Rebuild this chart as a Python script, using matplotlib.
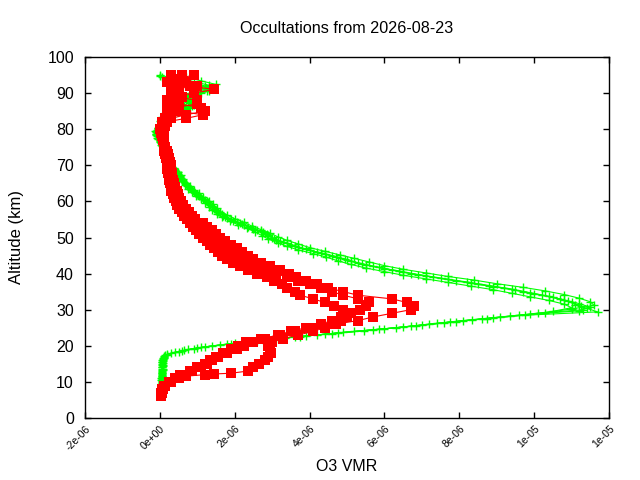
import matplotlib
matplotlib.use("Agg")
import matplotlib.pyplot as plt
import numpy as np
from matplotlib.ticker import FuncFormatter, MultipleLocator

plt.rcParams['font.family'] = ['Liberation Sans', 'DejaVu Sans']

# green profiles (O3 VMR in units of 1e-6), 1 km grids
green_alt_1 = np.arange(9, 96)
green_vmr_1 = [0.05, 0.05, 0.06, 0.05, 0.06, 0.07, 0.06, 0.08, 0.1, 0.3,
               0.75, 1.4, 2.3, 3.1, 4.2, 5.2, 6.3, 7.2, 8.1, 9.1,
               10.1, 11.3, 11.25, 11.0, 10.7, 10.2, 9.7, 9.2, 8.5, 7.9,
               7.3, 6.7, 6.2, 5.7, 5.3, 4.95, 4.6, 4.2, 3.8, 3.5,
               3.2, 3.0, 2.85, 2.6, 2.35, 2.15, 1.9, 1.7, 1.55, 1.45,
               1.35, 1.25, 1.1, 1.0, 0.88, 0.78, 0.66, 0.6, 0.54, 0.47,
               0.38, 0.28, 0.22, 0.18, 0.15, 0.12, 0.1, 0.05, 0.0, -0.05,
               -0.08, -0.05, 0.0, 0.05, 0.1, 0.3, 0.6, 0.8, 0.85, 0.7,
               0.75, 1.1, 1.4, 1.2, 0.8, 0.4, 0.0]

green_alt_2 = np.arange(9.4, 95, 1.0)
green_vmr_2 = [0.04, 0.06, 0.05, 0.07, 0.06, 0.08, 0.07, 0.09, 0.15, 0.5,
               1.0, 1.8, 2.6, 3.6, 4.6, 5.7, 6.7, 7.6, 8.6, 9.6,
               11.7, 11.4, 11.1, 10.9, 10.5, 10.0, 9.5, 8.9, 8.3, 7.7,
               7.1, 6.5, 6.0, 5.5, 5.1, 4.8, 4.4, 4.0, 3.7, 3.4,
               3.1, 2.9, 2.75, 2.5, 2.25, 2.05, 1.8, 1.65, 1.5, 1.4,
               1.3, 1.2, 1.05, 0.95, 0.82, 0.72, 0.64, 0.57, 0.5, 0.42,
               0.33, 0.25, 0.2, 0.16, 0.14, 0.1, 0.06, 0.02, -0.05, -0.1,
               -0.12, -0.05, 0.02, 0.0, 0.05, 0.15, 0.5, 0.65, 0.75, 0.9,
               0.6, 0.9, 1.2, 1.5, 1.1, 0.7]

green_alt_3 = np.arange(9.7, 95, 1.0)
green_vmr_3 = [0.06, 0.05, 0.07, 0.06, 0.08, 0.07, 0.08, 0.1, 0.2, 0.65,
               1.2, 2.0, 2.9, 3.9, 4.9, 6.0, 7.0, 7.9, 8.9, 9.9,
               11.2, 11.5, 11.2, 10.8, 10.4, 9.9, 9.4, 8.8, 8.2, 7.5,
               6.9, 6.4, 5.85, 5.4, 5.0, 4.7, 4.3, 3.9, 3.6, 3.3,
               3.05, 2.9, 2.7, 2.45, 2.2, 1.95, 1.75, 1.6, 1.5, 1.4,
               1.28, 1.15, 1.02, 0.9, 0.8, 0.7, 0.62, 0.55, 0.49, 0.4,
               0.3, 0.24, 0.19, 0.15, 0.12, 0.08, 0.04, 0.0, -0.08, -0.1,
               -0.07, -0.02, 0.03, 0.08, 0.2, 0.45, 0.7, 0.9, 0.8, 0.6,
               1.0, 1.3, 1.0, 0.6, 0.2, 0.0]

green_alt_4 = np.arange(9.2, 95, 1.0)
green_vmr_4 = [0.05, 0.07, 0.04, 0.06, 0.08, 0.06, 0.09, 0.07, 0.12, 0.4,
               0.9, 1.6, 2.45, 3.35, 4.4, 5.45, 6.5, 7.4, 8.35, 9.35,
               10.3, 11.0, 11.6, 11.5, 11.2, 10.8, 10.3, 9.7, 9.0, 8.4,
               7.7, 7.1, 6.5, 6.0, 5.6, 5.2, 4.8, 4.4, 4.0, 3.7,
               3.4, 3.15, 2.95, 2.7, 2.45, 2.25, 2.0, 1.8, 1.62, 1.52,
               1.42, 1.3, 1.16, 1.04, 0.92, 0.8, 0.7, 0.62, 0.56, 0.48,
               0.38, 0.28, 0.22, 0.17, 0.14, 0.11, 0.08, 0.03, -0.03, -0.08,
               -0.1, -0.06, 0.01, 0.03, 0.08, 0.25, 0.55, 0.75, 0.8, 0.8,
               0.7, 1.0, 1.35, 1.3, 0.9, 0.5]

green_alt_5 = np.arange(9.55, 95, 1.0)
green_vmr_5 = [0.06, 0.04, 0.06, 0.05, 0.07, 0.08, 0.06, 0.09, 0.18, 0.6,
               1.1, 1.9, 2.75, 3.75, 4.75, 5.85, 6.85, 7.75, 8.75, 9.75,
               10.5, 11.0, 10.8, 10.4, 9.9, 9.4, 8.9, 8.3, 7.7, 7.1,
               6.5, 6.0, 5.5, 5.1, 4.75, 4.45, 4.1, 3.7, 3.4, 3.15,
               2.9, 2.72, 2.55, 2.32, 2.08, 1.88, 1.67, 1.52, 1.4, 1.31,
               1.2, 1.1, 0.97, 0.86, 0.76, 0.66, 0.59, 0.52, 0.47, 0.38,
               0.29, 0.22, 0.18, 0.14, 0.12, 0.08, 0.05, 0.01, -0.06, -0.11,
               -0.09, -0.03, 0.02, 0.06, 0.18, 0.4, 0.68, 0.85, 0.85, 0.65,
               0.95, 1.25, 1.1, 0.7, 0.3, 0.05]

# red profiles
red_alt_1 = np.arange(6, 96)
red_vmr_1 = [0.03, 0.05, 0.08, 0.15, 0.3, 0.45, 0.6, 0.85, 1.1, 1.25,
             1.4, 1.55, 1.7, 1.9, 2.1, 2.3, 2.7, 3.2, 3.6, 4.1,
             4.7, 5.3, 5.7, 6.2, 6.7, 6.8, 6.6, 6.2, 5.3, 4.9,
             4.5, 4.2, 3.9, 3.65, 3.45, 3.2, 2.95, 2.7, 2.5, 2.35,
             2.2, 2.05, 1.9, 1.75, 1.62, 1.5, 1.4, 1.27, 1.15, 0.95,
             0.86, 0.78, 0.7, 0.63, 0.57, 0.52, 0.48, 0.45, 0.4, 0.38,
             0.35, 0.33, 0.32, 0.3, 0.3, 0.27, 0.25, 0.22, 0.18, 0.15,
             0.12, 0.1, 0.1, 0.1, 0.1, 0.15, 0.2, 0.3, 0.7, 1.2,
             1.1, 0.5, 0.3, 0.4, 0.9, 1.45, 0.8, 0.4, 0.5, 0.9]

red_alt_2 = [7, 8, 9, 10, 11, 11.6, 12.0, 12.2, 12.4, 13, 14, 15, 16, 17, 18,
             19, 20, 21, 22, 23, 24, 25, 26, 27, 28, 29, 30, 31, 32, 33,
             34, 35, 36, 37, 38, 39, 40, 41, 42, 43, 44, 45, 46, 47, 48,
             49, 50, 51, 52, 53, 54, 55, 56, 57, 58, 59, 60, 61, 62, 63,
             64, 65, 66, 67, 68, 69, 70, 71, 72, 73, 74, 75, 76, 77, 78,
             79, 80, 81, 82, 83, 84, 85, 86, 87, 88, 89, 90, 91, 92, 93,
             94, 95]
red_vmr_2 = [0.03, 0.05, 0.1, 0.3, 0.5, 0.7, 1.2, 1.45, 1.9, 2.35, 2.5, 2.65, 2.8, 2.9, 2.97,
             2.95, 2.9, 3.0, 3.3, 3.7, 4.1, 4.4, 4.6, 4.85, 5.0, 5.05, 4.9, 4.65, 4.4, 4.1,
             3.75, 3.6, 3.4, 3.25, 3.05, 2.85, 2.6, 2.35, 2.15, 1.95, 1.8, 1.65, 1.55, 1.45, 1.35,
             1.25, 1.15, 1.05, 0.97, 0.88, 0.8, 0.72, 0.65, 0.58, 0.52, 0.47, 0.42, 0.38, 0.34, 0.31,
             0.29, 0.27, 0.25, 0.24, 0.22, 0.2, 0.2, 0.18, 0.17, 0.15, 0.12, 0.1, 0.1, 0.08, 0.05,
             0.02, 0.0, 0.05, 0.05, 0.15, 0.25, 0.35, 0.2, 0.3, 0.2, 0.6, 0.3, 0.5, 0.3, 0.2,
             0.6, 0.3]

red_alt_3 = np.arange(8, 96)
red_vmr_3 = [0.05, 0.12, 0.25, 0.4, 0.55, 0.8, 1.0, 1.2, 1.35, 1.5,
             1.8, 2.05, 2.25, 2.5, 2.8, 3.15, 3.5, 3.9, 4.3, 4.6,
             4.85, 5.1, 5.35, 5.5, 5.6, 5.3, 4.9, 4.6, 4.3, 4.0,
             3.7, 3.4, 3.1, 2.85, 2.6, 2.4, 2.2, 2.05, 1.9, 1.8,
             1.65, 1.55, 1.42, 1.3, 1.18, 1.07, 0.97, 0.88, 0.8, 0.72,
             0.65, 0.58, 0.52, 0.47, 0.42, 0.38, 0.35, 0.32, 0.3, 0.29,
             0.27, 0.26, 0.24, 0.22, 0.2, 0.17, 0.15, 0.13, 0.12, 0.1,
             0.07, 0.05, 0.05, 0.1, 0.15, 0.7, 1.15, 0.5, 0.4, 1.0,
             1.0, 0.4, 0.5, 0.3, 1.0, 0.7, 0.3, 0.6]

green_profiles = [(green_alt_1, green_vmr_1), (green_alt_2, green_vmr_2),
                  (green_alt_3, green_vmr_3), (green_alt_4, green_vmr_4),
                  (green_alt_5, green_vmr_5)]
red_profiles = [(red_alt_1, red_vmr_1), (red_alt_2, red_vmr_2), (red_alt_3, red_vmr_3)]

fig = plt.figure(figsize=(6.4, 4.8), dpi=100)
ax = fig.add_axes([85 / 640, 62 / 480, 524 / 640, 361 / 480])

for alt, vmr in green_profiles:
    ax.plot(np.array(vmr) * 1e-6, alt, color='#00ff00', lw=0.8, marker='+',
            ms=6, mew=1.0)
for alt, vmr in red_profiles:
    ax.plot(np.array(vmr) * 1e-6, alt, color='#ff0000', lw=0.8, marker='s',
            ms=6.5, mew=0)

ax.set_xlim(-2e-6, 1.2e-5)
ax.set_ylim(0, 100)
ax.xaxis.set_major_locator(MultipleLocator(2e-6))
ax.yaxis.set_major_locator(MultipleLocator(10))
ax.xaxis.set_major_formatter(FuncFormatter(lambda v, p: '%.0e' % (0 if abs(v) < 1e-12 else v)))
ax.tick_params(direction='in', length=4, width=1, top=True, right=True, color='black')
ax.tick_params(axis='y', labelsize=11.5, pad=8)
ax.tick_params(axis='x', labelsize=7.5, pad=4)
for lab in ax.get_xticklabels():
    lab.set_rotation(45)
    lab.set_ha('right')
    lab.set_rotation_mode('anchor')
for s in ax.spines.values():
    s.set_linewidth(1)

ax.set_title('Occultations from 2026-08-23', fontsize=11.6, pad=17)
ax.set_xlabel('O3 VMR', fontsize=11.5, labelpad=5)
ax.set_ylabel('Altitude (km)', fontsize=12, labelpad=17)

fig.savefig('out.png', dpi=100)
